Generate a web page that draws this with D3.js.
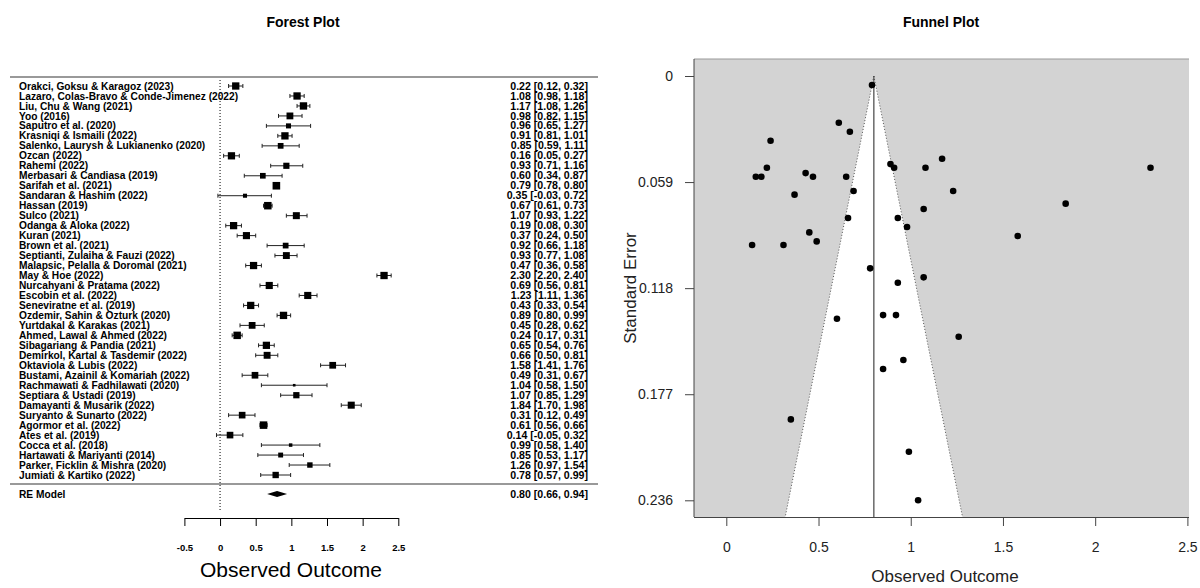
<!DOCTYPE html>
<html><head><meta charset="utf-8">
<script src="https://cdn.jsdelivr.net/npm/d3@7"></script>
<style>
body{margin:0;background:#fff}
svg{display:block}
text{font-family:"Liberation Sans",Arial,sans-serif;fill:#000}
</style>
</head><body>
<svg id="chart" width="1200" height="588"></svg>
<script>
// ---------------- data ----------------
const studies = [
"Orakci, Goksu & Karagoz (2023)","Lazaro, Colas-Bravo & Conde-Jimenez (2022)","Liu, Chu & Wang (2021)","Yoo (2016)",
"Saputro et al. (2020)","Krasniqi & Ismaili (2022)","Salenko, Laurysh & Lukianenko (2020)","Ozcan (2022)",
"Rahemi (2022)","Merbasari & Candiasa (2019)","Sarifah et al. (2021)","Sandaran & Hashim (2022)",
"Hassan (2019)","Sulco (2021)","Odanga & Aloka (2022)","Kuran (2021)",
"Brown et al. (2021)","Septianti, Zulaiha & Fauzi (2022)","Malapsic, Pelalla & Doromal (2021)","May & Hoe (2022)",
"Nurcahyani & Pratama (2022)","Escobin et al. (2022)","Seneviratne et al. (2019)","Ozdemir, Sahin & Ozturk (2020)",
"Yurtdakal & Karakas (2021)","Ahmed, Lawal & Ahmed (2022)","Sibagariang & Pandia (2021)","Demirkol, Kartal & Tasdemir (2022)",
"Oktaviola & Lubis (2022)","Bustami, Azainil & Komariah (2022)","Rachmawati & Fadhilawati (2020)","Septiara & Ustadi (2019)",
"Damayanti & Musarik (2022)","Suryanto & Sunarto (2022)","Agormor et al. (2022)","Ates et al. (2019)",
"Cocca et al. (2018)","Hartawati & Mariyanti (2014)","Parker, Ficklin & Mishra (2020)","Jumiati & Kartiko (2022)"];
const estimates = [0.22,1.08,1.17,0.98,0.96,0.91,0.85,0.16,0.93,0.60,0.79,0.35,0.67,1.07,0.19,0.37,0.92,0.93,0.47,2.30,
                   0.69,1.23,0.43,0.89,0.45,0.24,0.65,0.66,1.58,0.49,1.04,1.07,1.84,0.31,0.61,0.14,0.99,0.85,1.26,0.78];
const ciLower   = [0.12,0.98,1.08,0.82,0.65,0.81,0.59,0.05,0.71,0.34,0.78,-0.03,0.61,0.93,0.08,0.24,0.66,0.77,0.36,2.20,
                   0.56,1.11,0.33,0.80,0.28,0.17,0.54,0.50,1.41,0.31,0.58,0.85,1.70,0.12,0.56,-0.05,0.58,0.53,0.97,0.57];
const ciUpper   = [0.32,1.18,1.26,1.15,1.27,1.01,1.11,0.27,1.16,0.87,0.80,0.72,0.73,1.22,0.30,0.50,1.18,1.08,0.58,2.40,
                   0.81,1.36,0.54,0.99,0.62,0.31,0.76,0.81,1.76,0.67,1.50,1.29,1.98,0.49,0.66,0.32,1.40,1.17,1.54,0.99];
const stdErrors = [0.051,0.051,0.046,0.084,0.158,0.051,0.133,0.056,0.115,0.135,0.005,0.191,0.031,0.074,0.056,0.066,0.133,0.079,0.056,0.051,
                   0.064,0.064,0.054,0.049,0.087,0.036,0.056,0.079,0.089,0.092,0.236,0.112,0.071,0.094,0.026,0.094,0.209,0.163,0.145,0.107];
const pooledLabel = "RE Model";
const pooledEst = 0.80, pooledLower = 0.66, pooledUpper = 0.94;
const tau2 = 0.194;
const forestTicks = [-0.5,0,0.5,1,1.5,2,2.5];
const funnelXTicks = [0,0.5,1,1.5,2,2.5];
const funnelYTicks = [0,0.059,0.118,0.177,0.236];

const svg = d3.select("#chart");
const fmt = v => v.toFixed(2);

// ---------------- forest plot ----------------
const fx = d3.scaleLinear().domain([-0.5,2.5]).range([184.4,398.3]);
const fy = d3.scalePoint().domain(studies).range([86,475]);
const weights = stdErrors.map(s => 1/(s*s + tau2));
const psize = d3.scaleLinear().domain(d3.extent(weights)).range([2.6,7.6]);

const F = svg.append("g");
F.append("text").attr("x",303).attr("y",27).attr("text-anchor","middle")
 .style("font-weight","bold").style("font-size","14px").text("Forest Plot");

F.append("line").attr("x1",10).attr("x2",598).attr("y1",77).attr("y2",77).attr("stroke","#777").attr("stroke-width",1.6);
F.append("line").attr("x1",10).attr("x2",598).attr("y1",484).attr("y2",484).attr("stroke","#777").attr("stroke-width",1.6);
F.append("line").attr("x1",fx(0)).attr("x2",fx(0)).attr("y1",80).attr("y2",512)
 .attr("stroke","#000").attr("stroke-dasharray","1,2");

const rows = F.selectAll("g.row").data(studies).join("g").attr("class","row");
rows.append("text").attr("x",19).attr("y",d=>fy(d)+3.6)
  .style("font-size","10.2px").style("font-weight","bold").text(d=>d);
rows.append("text").attr("x",588).attr("y",d=>fy(d)+3.6).attr("text-anchor","end")
  .style("font-size","10.6px").style("font-weight","bold")
  .text((d,i)=>`${fmt(estimates[i])} [${fmt(ciLower[i])}, ${fmt(ciUpper[i])}]`);
rows.append("line").attr("x1",(d,i)=>fx(ciLower[i])).attr("x2",(d,i)=>fx(ciUpper[i]))
  .attr("y1",d=>fy(d)).attr("y2",d=>fy(d)).attr("stroke","#222").attr("stroke-width",1);
rows.append("line").attr("x1",(d,i)=>fx(ciLower[i])).attr("x2",(d,i)=>fx(ciLower[i]))
  .attr("y1",d=>fy(d)-2).attr("y2",d=>fy(d)+2).attr("stroke","#222");
rows.append("line").attr("x1",(d,i)=>fx(ciUpper[i])).attr("x2",(d,i)=>fx(ciUpper[i]))
  .attr("y1",d=>fy(d)-2).attr("y2",d=>fy(d)+2).attr("stroke","#222");
rows.append("rect")
  .attr("x",(d,i)=>fx(estimates[i])-psize(weights[i])/2)
  .attr("y",(d,i)=>fy(d)-psize(weights[i])/2)
  .attr("width",(d,i)=>psize(weights[i])).attr("height",(d,i)=>psize(weights[i]))
  .attr("fill","#000");

const reY = 494;
F.append("text").attr("x",19).attr("y",reY+3.6).style("font-size","10.2px").style("font-weight","bold").text(pooledLabel);
F.append("text").attr("x",588).attr("y",reY+3.6).attr("text-anchor","end").style("font-size","10.6px").style("font-weight","bold")
 .text(`${fmt(pooledEst)} [${fmt(pooledLower)}, ${fmt(pooledUpper)}]`);
F.append("polygon").attr("points",[[fx(pooledLower),reY],[fx(pooledEst),reY-3],[fx(pooledUpper),reY],[fx(pooledEst),reY+3]].join(" "))
 .attr("fill","#000");

const fAxis = F.append("g").attr("transform","translate(0,518)")
 .call(d3.axisBottom(fx).tickValues(forestTicks).tickSize(8).tickSizeOuter(0).tickPadding(18).tickFormat(d=>String(d)));
fAxis.select(".domain").attr("stroke","#000");
fAxis.selectAll(".tick line").attr("stroke","#000");
fAxis.selectAll("text").style("font-size","9.5px").style("font-weight","bold").attr("font-family",null);
F.append("text").attr("x",291).attr("y",577).attr("text-anchor","middle").style("font-size","21px").text("Observed Outcome");

// ---------------- funnel plot ----------------
const gx = d3.scaleLinear().domain([0,2.5]).range([726.3,1187.4]);
const gy = d3.scaleLinear().domain([0,0.236]).range([76,500.3]);
const pL = 694, pR = 1189, pT = 59, pB = 517;
const G = svg.append("g");
G.append("text").attr("x",941).attr("y",27).attr("text-anchor","middle")
 .style("font-weight","bold").style("font-size","14px").text("Funnel Plot");
G.append("rect").attr("x",pL).attr("y",pT).attr("width",pR-pL).attr("height",pB-pT).attr("fill","#d3d3d3");
const seB = gy.invert(pB);
G.append("polygon").attr("points",[[gx(pooledEst-1.96*seB),pB],[gx(pooledEst),gy(0)],[gx(pooledEst+1.96*seB),pB]].join(" "))
 .attr("fill","#fff");
G.append("line").attr("x1",gx(pooledEst)).attr("x2",gx(pooledEst-1.96*seB)).attr("y1",gy(0)).attr("y2",pB)
 .attr("stroke","#555").attr("stroke-dasharray","1,2");
G.append("line").attr("x1",gx(pooledEst)).attr("x2",gx(pooledEst+1.96*seB)).attr("y1",gy(0)).attr("y2",pB)
 .attr("stroke","#555").attr("stroke-dasharray","1,2");
G.append("line").attr("x1",gx(pooledEst)).attr("x2",gx(pooledEst)).attr("y1",gy(0)).attr("y2",pB)
 .attr("stroke","#444").attr("stroke-width",1.2);
G.selectAll("circle").data(estimates).join("circle")
 .attr("cx",d=>gx(d)).attr("cy",(d,i)=>gy(stdErrors[i])).attr("r",3.3).attr("fill","#000");
G.append("line").attr("x1",pL).attr("x2",pR).attr("y1",pT).attr("y2",pT).attr("stroke","#999");
G.append("line").attr("x1",pL).attr("x2",pL).attr("y1",pT).attr("y2",pB).attr("stroke","#444");

const gxa = G.append("g").attr("transform",`translate(0,${pB})`)
 .call(d3.axisBottom(gx).tickValues(funnelXTicks).tickSize(9).tickPadding(16).tickFormat(d=>String(d)));
gxa.select(".domain").attr("d",`M${pL},0.5H${pR}`).attr("stroke","#444");
gxa.selectAll(".tick line").attr("stroke","#444");
gxa.selectAll("text").style("font-size","14px").attr("font-family",null).style("fill","#222");
const gya = G.append("g").attr("transform",`translate(${pL},0)`)
 .call(d3.axisLeft(gy).tickValues(funnelYTicks).tickSize(9).tickPadding(12).tickFormat(d=>d===0?"0":d.toFixed(3)));
gya.select(".domain").remove();
gya.selectAll(".tick line").attr("stroke","#444");
gya.selectAll("text").style("font-size","14px").attr("font-family",null).style("fill","#222");
G.append("text").attr("x",945).attr("y",582).attr("text-anchor","middle").style("font-size","17px").style("fill","#222").text("Observed Outcome");
G.append("text").attr("transform",`translate(636,${(pT+pB)/2}) rotate(-90)`).attr("text-anchor","middle")
 .style("font-size","17px").style("fill","#222").text("Standard Error");
</script>
</body></html>
